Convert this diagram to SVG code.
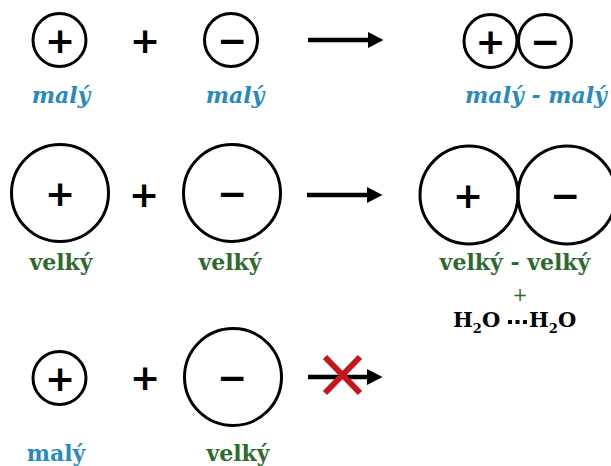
<svg xmlns="http://www.w3.org/2000/svg" width="611" height="466" viewBox="0 0 611 466">
<defs>
<style>
.ion{fill:none;stroke:#000;stroke-width:3}
.sign{font-family:"DejaVu Sans",sans-serif;font-weight:bold;font-size:36px;text-anchor:middle;fill:#000}
.op{font-family:"DejaVu Sans",sans-serif;font-weight:bold;font-size:36px;text-anchor:middle;fill:#000}
.small{font-family:"DejaVu Serif",serif;font-weight:bold;font-style:italic;font-size:22px;text-anchor:middle;fill:#2a8ac0}
.smallup{font-family:"DejaVu Serif",serif;font-weight:bold;font-size:22px;text-anchor:middle;fill:#2a8ac0}
.big{font-family:"DejaVu Serif",serif;font-weight:bold;font-size:22px;text-anchor:middle;fill:#2d6a2d}
.water{font-family:"DejaVu Serif",serif;font-weight:bold;font-size:21px;fill:#000}
.shaft{stroke:#000;stroke-width:4.5;fill:none}
</style>
<marker id="ah" markerWidth="4" markerHeight="4" refX="0.5" refY="2" orient="auto" markerUnits="strokeWidth">
<path d="M0,0.2 L3.5,2 L0,3.8 Z" fill="#000"/>
</marker>
</defs>
<rect width="611" height="466" fill="#fff"/>

<g id="row1-cation">
<circle class="ion" cx="59.5" cy="40" r="26.5"/>
<text class="sign" x="60" y="53">+</text>
</g>
<g id="row1-plus"><text class="op" x="145" y="53">+</text></g>
<g id="row1-anion">
<circle class="ion" cx="231" cy="40" r="26.5"/>
<text class="sign" x="232" y="53">−</text>
</g>
<g id="row1-pair">
<circle class="ion" cx="490.5" cy="41" r="26.5"/>
<text class="sign" x="490.5" y="54">+</text>
<circle class="ion" cx="545" cy="41" r="26.5"/>
<text class="sign" x="545" y="54">−</text>
</g>
<g id="row1-labels">
<text class="small" x="61" y="103">malý</text>
<text class="small" x="235" y="103">malý</text>
<text class="small" x="536" y="103">malý - malý</text>
</g>

<g id="row2-cation">
<circle class="ion" cx="60" cy="193" r="48.5"/>
<text class="sign" x="60" y="206">+</text>
</g>
<g id="row2-plus"><text class="op" x="144" y="207">+</text></g>
<g id="row2-anion">
<circle class="ion" cx="232" cy="193" r="48.5"/>
<text class="sign" x="232" y="206">−</text>
</g>
<g id="row2-pair">
<circle class="ion" cx="469" cy="195" r="49"/>
<text class="sign" x="468" y="208">+</text>
<circle class="ion" cx="567" cy="195" r="49"/>
<text class="sign" x="565" y="208">−</text>
</g>
<g id="row2-labels">
<text class="big" x="61" y="270">velký</text>
<text class="big" x="230" y="270">velký</text>
<text class="big" x="515" y="270">velký - velký</text>
<text class="big" x="520" y="301" style="font-weight:normal;font-size:18px">+</text>
</g>
<g id="water">
<text class="water" x="453" y="327">H<tspan font-size="13" dy="6">2</tspan><tspan dy="-6">O</tspan></text>
<text class="water" x="529" y="327">H<tspan font-size="13" dy="6">2</tspan><tspan dy="-6">O</tspan></text>
</g>

<g id="row3-cation">
<circle class="ion" cx="59.5" cy="378" r="26.5"/>
<text class="sign" x="60" y="391">+</text>
</g>
<g id="row3-plus"><text class="op" x="145" y="390">+</text></g>
<g id="row3-anion">
<circle class="ion" cx="233" cy="377" r="48.5"/>
<text class="sign" x="232" y="390">−</text>
</g>
<g id="row3-labels">
<text class="smallup" x="56" y="461">malý</text>
<text class="big" x="238" y="461">velký</text>
</g>

<g id="connectors">
<line class="shaft" x1="308" y1="40" x2="370" y2="40" marker-end="url(#ah)"/>
<line class="shaft" x1="307" y1="195" x2="369" y2="195" marker-end="url(#ah)"/>
<line class="shaft" x1="308" y1="377" x2="369" y2="377" marker-end="url(#ah)"/>
<line x1="508" y1="322" x2="528" y2="322" stroke="#000" stroke-width="4" stroke-dasharray="4 3.5"/>
<g id="cross" stroke="#c4161c" stroke-width="6" stroke-linecap="butt">
<line x1="325" y1="357" x2="360" y2="393"/>
<line x1="360" y1="357" x2="325" y2="393"/>
</g>
</g>
</svg>
